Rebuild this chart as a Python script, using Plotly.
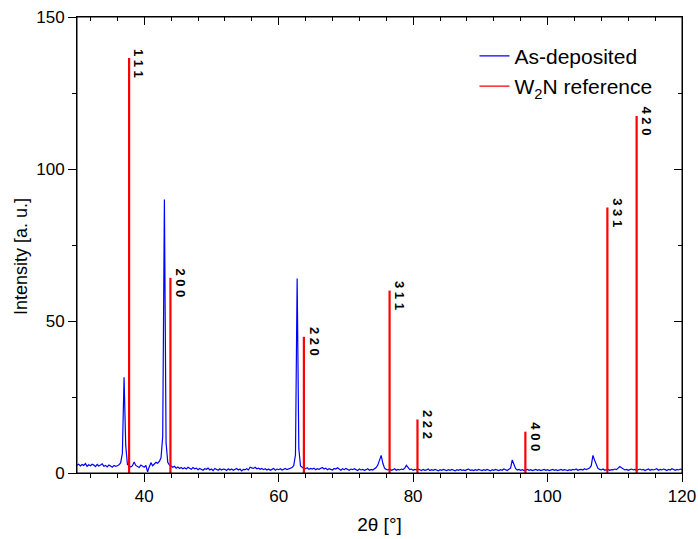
import numpy as np
import plotly.graph_objects as go

# ---- measured pattern (As-deposited), 2theta grid 30..120 step 0.25 ----
two_theta = np.arange(30, 120.001, 0.25)
intensity = [
    2.6, 2.9, 2.3, 2.8, 2.5, 3.1, 2.2, 2.7, 2.4, 2.9, 2.6, 2.1, 2.8, 2.3, 2.6, 3.0,
    2.2, 2.5, 2.0, 2.6, 2.3, 1.9, 2.5, 2.2, 2.4, 2.7, 3.4, 6.5, 31.5, 9.0, 2.8, 2.3,
    2.0, 2.4, 3.6, 2.5, 2.1, 1.8, 2.6, 2.2, 1.9, 2.5, 0.4, 2.0, 3.4, 2.4, 2.9, 3.5,
    3.2, 3.8, 5.0, 12.0, 90.0, 10.0, 3.5, 2.6, 2.3, 1.9, 2.2, 1.6, 2.0, 1.5, 1.8, 1.4,
    1.7, 1.3, 1.9, 1.5, 1.2, 1.8, 1.4, 1.6, 1.1, 1.5, 1.3, 0.9, 1.4, 1.2, 1.6, 1.0,
    1.3, 0.8, 1.5, 1.1, 0.9, 1.4, 1.0, 1.3, 1.2, 0.8, 1.4, 1.0, 1.3, 0.9, 1.2, 1.5,
    1.0, 1.3, 0.7, 1.2, 1.1, 1.4, 1.0, 1.9, 1.7, 1.5, 1.9, 1.4, 1.6, 1.2, 1.5, 1.1,
    1.4, 1.0, 1.3, 0.9, 1.2, 1.5, 0.9, 1.3, 1.1, 1.4, 1.0, 1.2, 1.5, 1.1, 1.3, 1.6,
    1.8, 2.5, 6.0, 64.0, 8.0, 2.3, 1.8, 1.5, 1.4, 1.7, 1.2, 1.5, 1.3, 1.6, 1.1, 1.4,
    1.2, 1.5, 1.8, 1.3, 1.6, 1.1, 1.4, 1.2, 1.0, 1.5, 1.3, 1.7, 1.2, 0.9, 1.4, 1.1,
    1.5, 1.2, 0.9, 1.3, 1.1, 1.4, 1.0, 0.8, 1.3, 1.0, 1.2, 0.9, 1.1, 1.4, 0.9, 1.2,
    1.0, 1.3, 1.8, 2.6, 4.5, 5.8, 3.2, 1.6, 1.2, 1.0, 1.3, 0.9, 1.1, 1.4, 0.9, 1.2,
    1.0, 1.3, 1.1, 1.6, 2.5, 1.8, 1.1, 1.3, 0.9, 1.2, 1.0, 1.3, 1.1, 0.8, 1.2, 0.9,
    1.0, 1.3, 0.8, 1.1, 0.9, 1.2, 1.0, 0.7, 1.1, 0.9, 1.2, 1.0, 0.8, 1.1, 0.9, 1.2,
    1.0, 0.7, 1.1, 0.9, 1.2, 0.9, 1.0, 0.8, 1.1, 1.3, 0.9, 1.0, 0.8, 1.1, 0.9, 1.2,
    1.0, 0.8, 1.1, 0.9, 1.2, 1.0, 0.7, 1.1, 0.9, 1.2, 1.0, 0.8, 1.1, 0.9, 1.3, 1.0,
    0.8, 1.2, 1.6, 4.3, 2.8, 1.4, 1.0, 1.2, 0.9, 1.1, 0.8, 1.0, 1.2, 0.9, 1.1, 0.8,
    1.0, 1.2, 0.9, 1.1, 0.8, 1.0, 1.2, 0.9, 1.1, 0.8, 1.0, 1.2, 0.9, 1.1, 0.8, 1.0,
    1.2, 0.9, 1.1, 1.0, 0.8, 1.1, 0.9, 1.2, 1.0, 1.3, 0.9, 1.1, 1.2, 1.0, 1.4, 1.1,
    1.3, 1.6, 2.4, 5.8, 4.2, 2.6, 1.5, 1.2, 1.0, 1.3, 0.9, 1.1, 1.2, 0.9, 1.1, 1.0,
    1.3, 1.1, 1.6, 2.1, 1.7, 1.3, 1.0, 1.2, 0.9, 1.1, 1.3, 1.0, 1.2, 0.9, 1.1, 1.3,
    1.0, 1.2, 0.8, 1.1, 1.3, 0.9, 1.2, 1.0, 1.1, 1.4, 0.9, 1.2, 1.0, 1.3, 1.1, 0.8,
    1.2, 1.0, 1.4, 1.1, 0.9, 1.2, 1.0, 1.3, 1.1,
]

# ---- W2N reference pattern ----
ref_pos = [37.75, 43.9, 63.75, 76.5, 80.65, 96.7, 108.9, 113.25]
ref_int = [136.5, 64.2, 44.8, 60.0, 17.6, 13.6, 87.3, 117.4]
ref_hkl = ["111", "200", "220", "311", "222", "400", "331", "420"]

FONT = "Liberation Sans, Arial, sans-serif"

fig = go.Figure()
fig.add_trace(go.Scatter(
    x=two_theta, y=intensity, mode="lines", name="As-deposited",
    line=dict(color="#0000FF", width=1.2),
))
rx, ry = [], []
for p, h in zip(ref_pos, ref_int):
    rx += [p, p, None]
    ry += [0, h, None]
fig.add_trace(go.Scatter(
    x=rx, y=ry, mode="lines", showlegend=False,
    line=dict(color="#FF0000", width=2.2),
))
fig.add_trace(go.Scatter(
    x=[None], y=[None], mode="lines", name="W<sub>2</sub>N reference",
    line=dict(color="#FF0000", width=1.2),
))
# carrier trace for the mirrored (top/right) tick axes: one point outside the range
fig.add_trace(go.Scatter(
    x=[75], y=[-10], mode="markers", xaxis="x2", yaxis="y2",
    marker=dict(size=1, color="rgba(0,0,0,0)"),
    showlegend=False, hoverinfo="skip",
))

for p, h, lab in zip(ref_pos, ref_int, ref_hkl):
    fig.add_annotation(
        x=p, y=h, text="<b>" + " ".join(lab) + "</b>", textangle=90,
        showarrow=False, xshift=10, yshift=-5,
        font=dict(family=FONT, size=13, color="black"),
    )

fig.add_annotation(
    xref="paper", yref="paper", x=0, y=0.5, xanchor="center", yanchor="middle",
    xshift=-56, yshift=-12, text="Intensity [a. u.]", textangle=-90,
    showarrow=False, font=dict(family=FONT, size=18, color="black"),
)

# plot frame
fig.add_shape(type="rect", xref="paper", yref="paper", x0=0, x1=1, y0=0, y1=1,
              line=dict(color="black", width=1), layer="above")

axis_common = dict(showgrid=False, zeroline=False, showline=True, automargin=False,
                   linecolor="black", linewidth=1, tickcolor="black", tickwidth=1)

fig.update_layout(
    width=698, height=539,
    margin=dict(l=77, r=16, t=17, b=66, autoexpand=False),
    plot_bgcolor="white", paper_bgcolor="white",
    font=dict(family=FONT, color="black"),
    xaxis=dict(range=[30, 120], tick0=0, dtick=20, ticks="outside", ticklen=8,
               minor=dict(tick0=0, dtick=4, ticks="outside", ticklen=4, tickcolor="black"),
               tickfont=dict(size=17), title=dict(text="2θ [°]", font=dict(size=19), standoff=12),
               **axis_common),
    yaxis=dict(range=[0, 150], tick0=0, dtick=50, ticks="outside", ticklen=8,
               minor=dict(tick0=0, dtick=25, ticks="outside", ticklen=4, tickcolor="black"),
               tickfont=dict(size=17), **axis_common),
    xaxis2=dict(overlaying="x", side="top", anchor="y2", range=[30, 120], tick0=0, dtick=20,
                ticks="inside", ticklen=8, showticklabels=False,
                minor=dict(tick0=0, dtick=4, ticks="inside", ticklen=4, tickcolor="black"),
                **axis_common),
    yaxis2=dict(overlaying="y", side="right", anchor="x2", range=[0, 150], tick0=0, dtick=50,
                ticks="inside", ticklen=8, showticklabels=False,
                minor=dict(tick0=0, dtick=25, ticks="inside", ticklen=4, tickcolor="black"),
                **axis_common),
    legend=dict(x=0.657, y=0.959, xanchor="left", yanchor="top",
                bgcolor="rgba(0,0,0,0)", font=dict(size=21), itemwidth=30,
                tracegroupgap=0),
    showlegend=True,
)

fig.write_html("out.html")
